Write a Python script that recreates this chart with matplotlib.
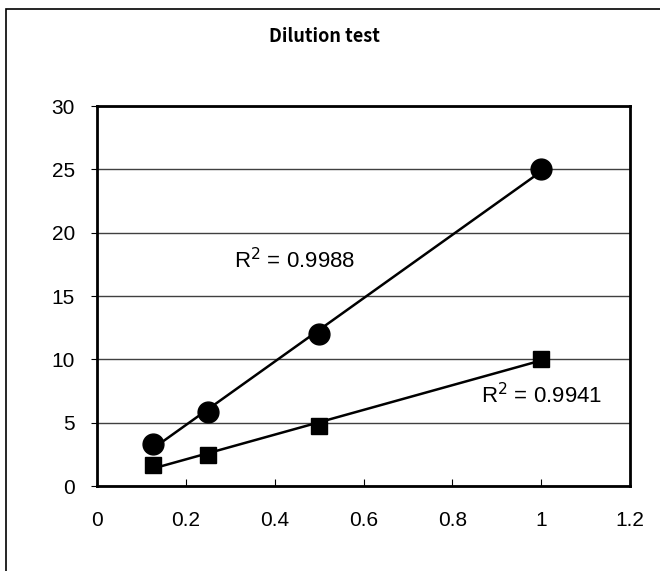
import numpy as np
import matplotlib
matplotlib.use("Agg")
import matplotlib.pyplot as plt
from matplotlib.patches import Rectangle

# data
dilution = [0.125, 0.25, 0.5, 1.0]
high_vals = [3.3, 5.85, 12.0, 25.0]
low_vals = [1.65, 2.45, 4.75, 10.05]
r2_labels = ["R$^2$ = 0.9988", "R$^2$ = 0.9941"]
x_ticks = [0, 0.2, 0.4, 0.6, 0.8, 1, 1.2]
x_ticklabels = ["0", "0.2", "0.4", "0.6", "0.8", "1", "1.2"]
y_ticks = [0, 5, 10, 15, 20, 25, 30]

plt.rcParams['font.family'] = ['Liberation Sans', 'DejaVu Sans']

fig = plt.figure(figsize=(6.6, 5.71), dpi=100)
# outer chart frame (clipped on the right and bottom like the original)
fig.patches.append(Rectangle((6 / 660, -0.1), 1.2, 1 - 9 / 571 + 0.1,
                             transform=fig.transFigure, fill=False,
                             edgecolor='black', linewidth=1.2))

ax = fig.add_axes([97 / 660, 1 - 486 / 571, 533 / 660, 380 / 571])

for vals, marker, ms in [(high_vals, 'o', 15), (low_vals, 's', 11)]:
    k, b = np.polyfit(dilution, vals, 1)
    xs = np.array([dilution[0], dilution[-1]])
    ax.plot(xs, k * xs + b, color='black', linewidth=1.8, zorder=3)
    ax.plot(dilution, vals, linestyle='none', marker=marker, markersize=ms,
            color='black', zorder=4)

ax.text(0.446, 17.2, r2_labels[0], fontsize=16, ha='center', va='baseline')
ax.text(1.002, 6.55, r2_labels[1], fontsize=16, ha='center', va='baseline')

ax.set_xlim(0, 1.2)
ax.set_ylim(0, 30)
ax.set_xticks(x_ticks)
ax.set_xticklabels(x_ticklabels)
ax.set_yticks(y_ticks)
ax.yaxis.grid(True, color='#404040', linewidth=1)
ax.set_axisbelow(True)
ax.tick_params(axis='x', direction='in', length=5, labelsize=15, pad=18)
ax.tick_params(axis='y', direction='out', length=4, labelsize=15, pad=12)
for s in ax.spines.values():
    s.set_linewidth(2)

fig.text(324 / 660, 1 - 42.5 / 571, "Dilution test", ha='center', va='baseline',
         fontsize=13, fontweight='bold', family=['Noto Sans CJK JP', 'DejaVu Sans'])

fig.savefig("out.png", dpi=100)
